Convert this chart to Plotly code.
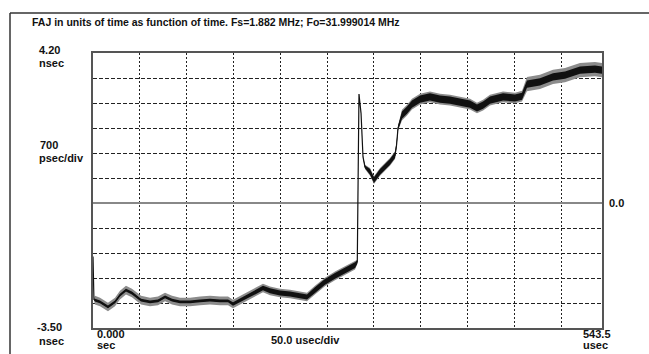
import plotly.graph_objects as go

# ---------------- data ----------------
time_us = [0.0, 1.0, 2.1, 7.5, 16.0, 23.5, 28.8, 35.2, 41.6, 51.3,
           60.9, 69.4, 76.9, 84.4, 92.9, 103.6, 114.3, 124.9, 135.6, 144.2,
           149.5, 157.0, 165.5, 174.1, 181.5, 189.0, 199.7, 210.4, 221.0, 228.5,
           237.0, 247.7, 258.4, 269.1, 279.8, 282.2, 284.0, 286.2, 287.2, 288.3,
           290.4, 295.8, 300.0, 306.5, 317.1, 322.5, 324.1, 325.7, 329.9, 335.3,
           340.6, 349.2, 359.8, 370.5, 381.2, 391.9, 402.6, 410.0, 416.5, 423.9,
           437.8, 450.6, 458.1, 463.4, 477.3, 491.2, 504.0, 520.0, 536.0, 543.5]

faj_ns = [-1.50, -2.70, -2.72, -2.77, -2.91, -2.77, -2.58, -2.44, -2.52, -2.72,
          -2.77, -2.74, -2.63, -2.72, -2.77, -2.77, -2.74, -2.72, -2.74, -2.74,
          -2.83, -2.72, -2.60, -2.49, -2.38, -2.46, -2.52, -2.55, -2.60, -2.63,
          -2.44, -2.21, -2.04, -1.90, -1.74, -1.65, 3.05, 2.52, 1.85, 1.29,
          1.01, 0.87, 0.64, 0.87, 1.15, 1.34, 1.62, 2.10, 2.46, 2.60,
          2.77, 2.91, 2.97, 2.91, 2.88, 2.83, 2.77, 2.66, 2.74, 2.88,
          2.97, 2.94, 2.99, 3.33, 3.39, 3.53, 3.58, 3.72, 3.75, 3.72]

# half-width of the dark core of the noisy trace (nsec)
core_ns = [0.01, 0.01, 0.04, 0.04, 0.04, 0.04, 0.04, 0.04, 0.04, 0.04,
           0.04, 0.04, 0.04, 0.04, 0.04, 0.04, 0.04, 0.04, 0.04, 0.04,
           0.05, 0.05, 0.06, 0.06, 0.06, 0.07, 0.07, 0.07, 0.07, 0.07,
           0.08, 0.08, 0.08, 0.08, 0.08, 0.05, 0.01, 0.01, 0.01, 0.01,
           0.04, 0.08, 0.08, 0.08, 0.08, 0.08, 0.05, 0.05, 0.10, 0.10,
           0.10, 0.10, 0.10, 0.10, 0.10, 0.10, 0.10, 0.10, 0.10, 0.10,
           0.10, 0.10, 0.10, 0.10, 0.10, 0.10, 0.10, 0.10, 0.10, 0.10]

# half-width of the light noise spikes around the trace (nsec)
noise_ns = [0.02, 0.02, 0.12, 0.12, 0.12, 0.12, 0.12, 0.12, 0.12, 0.12,
            0.12, 0.12, 0.12, 0.12, 0.12, 0.12, 0.12, 0.12, 0.12, 0.12,
            0.12, 0.12, 0.12, 0.12, 0.12, 0.12, 0.12, 0.12, 0.12, 0.12,
            0.12, 0.12, 0.12, 0.12, 0.12, 0.06, 0.02, 0.02, 0.02, 0.02,
            0.06, 0.11, 0.11, 0.11, 0.11, 0.11, 0.08, 0.08, 0.15, 0.15,
            0.15, 0.15, 0.15, 0.15, 0.15, 0.15, 0.15, 0.15, 0.15, 0.15,
            0.15, 0.15, 0.15, 0.20, 0.20, 0.20, 0.20, 0.20, 0.20, 0.20]

title_text = "FAJ in units of time as function of time. Fs=1.882 MHz; Fo=31.999014 MHz"
y_top_label, y_bottom_label, y_unit = "4.20", "-3.50", "nsec"
y_div_label, y_div_unit = "700", "psec/div"
x_left_label, x_left_unit = "0.000", "sec"
x_right_label, x_right_unit = "543.5", "usec"
x_div_label = "50.0 usec/div"
zero_label = "0.0"

x_range = [0.0, 543.5]
y_range = [-3.5, 4.2]
x_div = 50.0
y_div = 0.7

# ---------------- layout geometry ----------------
W, H = 649, 354
L, T, R, B = 93, 53, 602, 328
PW, PH = R - L, B - T


def px(x):
    return (x - L) / PW


def py(y):
    return 1 - (y - T) / PH


FONT = "Liberation Sans"

fig = go.Figure()

upper_n = [v + n for v, n in zip(faj_ns, noise_ns)]
lower_n = [v - n for v, n in zip(faj_ns, noise_ns)]
upper_c = [v + c for v, c in zip(faj_ns, core_ns)]
lower_c = [v - c for v, c in zip(faj_ns, core_ns)]

fig.add_trace(go.Scatter(x=time_us, y=lower_n, mode="lines",
                         line=dict(width=0, color="#8c8c8c"), hoverinfo="skip"))
fig.add_trace(go.Scatter(x=time_us, y=upper_n, mode="lines", fill="tonexty",
                         fillcolor="#8c8c8c", line=dict(width=0, color="#8c8c8c"),
                         hoverinfo="skip"))
fig.add_trace(go.Scatter(x=time_us, y=lower_c, mode="lines",
                         line=dict(width=0, color="#111"), hoverinfo="skip"))
fig.add_trace(go.Scatter(x=time_us, y=upper_c, mode="lines", fill="tonexty",
                         fillcolor="#111111", line=dict(width=0, color="#111"),
                         hoverinfo="skip"))
fig.add_trace(go.Scatter(x=time_us, y=faj_ns, mode="lines",
                         line=dict(width=1.2, color="#111")))

ann = []


def label(text, x, y, anchor="left", size=11):
    ann.append(dict(text=text, x=px(x), y=py(y), xref="paper", yref="paper",
                    xanchor=anchor, yanchor="middle", showarrow=False,
                    font=dict(family=FONT, size=size, color="#111", weight="bold")))


label(title_text, 30, 22, size=10.5)
label(y_top_label, 37, 50)
label(y_unit, 37, 63)
label(y_div_label, 38, 145)
label(y_div_unit, 37, 158)
label(y_bottom_label, 35, 327)
label(y_unit, 37, 341)
label(x_left_label, 95, 334)
label(x_left_unit, 95, 345)
label(x_div_label, 305, 340, anchor="center")
label(x_right_label, 581, 334)
label(x_right_unit, 581, 345)
label(zero_label, 607, 203)

shapes = [
    dict(type="line", xref="paper", yref="paper", x0=px(10), x1=px(10),
         y0=py(13), y1=py(360), line=dict(color="#333", width=1.5)),
    dict(type="line", xref="paper", yref="paper", x0=px(10), x1=px(660),
         y0=py(13), y1=py(13), line=dict(color="#333", width=1.5)),
]

fig.update_layout(
    width=W, height=H,
    margin=dict(l=L, r=W - R, t=T, b=H - B, autoexpand=False),
    paper_bgcolor="white", plot_bgcolor="white",
    showlegend=False,
    annotations=ann, shapes=shapes,
    xaxis=dict(range=x_range, tick0=0, dtick=x_div, showticklabels=False, ticks="",
               showgrid=True, gridcolor="#222", gridwidth=1, griddash="2px,2px",
               zeroline=False, showline=True, mirror=True, linecolor="#555",
               linewidth=2, fixedrange=True),
    yaxis=dict(range=y_range, tick0=y_range[0], dtick=y_div, showticklabels=False,
               ticks="", showgrid=True, gridcolor="#222", gridwidth=1,
               griddash="4px,2px", zeroline=True, zerolinecolor="#888",
               zerolinewidth=2, showline=True, mirror=True, linecolor="#555",
               linewidth=2, fixedrange=True),
)

fig.write_html("out.html", config={"displayModeBar": False},
               post_script="document.body.style.margin='0';"
                           "document.body.style.overflow='hidden';")
